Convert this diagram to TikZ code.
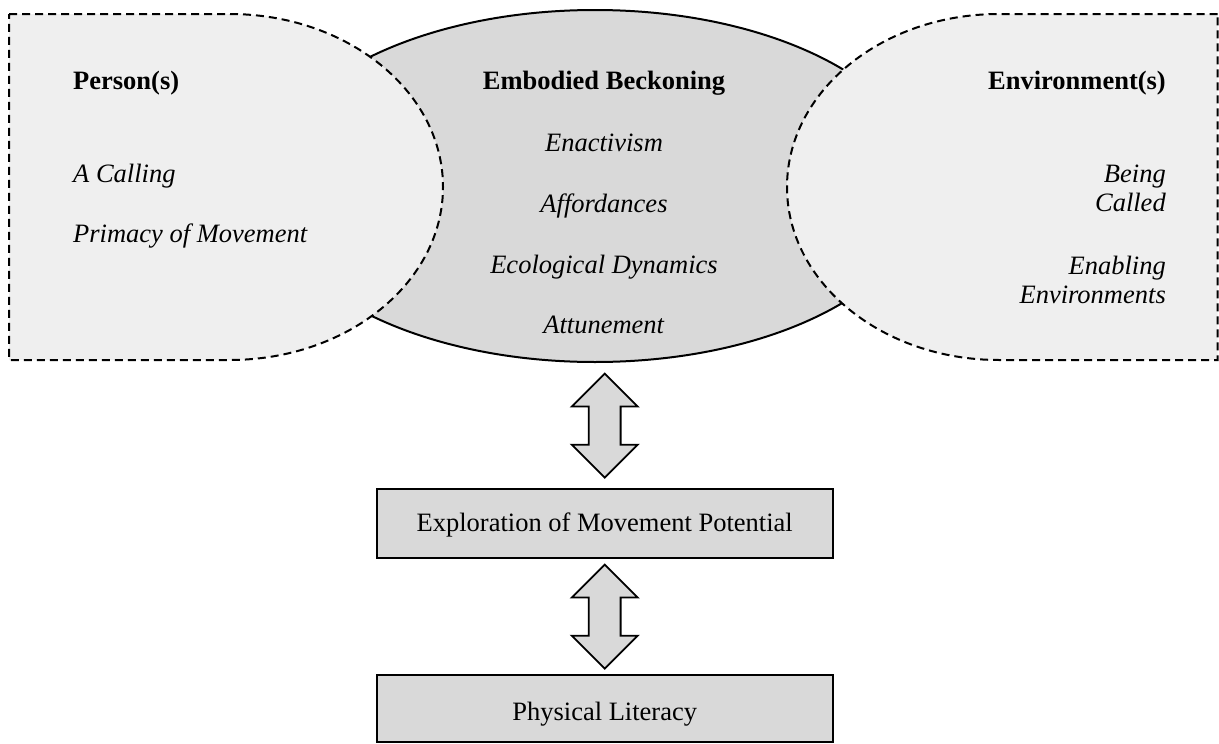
\documentclass[tikz,border=0pt]{standalone}
\usepackage{fontspec}
\setmainfont{Liberation Serif}
\usetikzlibrary{shapes.geometric,shapes.arrows,calc}
\definecolor{sidefill}{HTML}{EFEFEF}
\definecolor{midfill}{HTML}{D9D9D9}
\begin{document}
\begin{tikzpicture}[x=1pt,y=-1pt,
  txt/.style={font=\fontsize{26.5}{29}\selectfont, inner sep=0pt},
  side/.style={fill=sidefill, draw=black, line width=2pt, dash pattern=on 8pt off 5pt},
  midshape/.style={ellipse, draw=black, line width=2pt, fill=midfill, inner sep=0pt},
  box/.style={draw=black, line width=2pt, fill=midfill, inner sep=0pt, minimum width=456pt,
              font=\fontsize{26.5}{29}\selectfont},
  dbl/.style={double arrow, draw=black, line width=1.8pt, fill=midfill, rotate=90,
              minimum height=104pt, inner xsep=0pt, inner ysep=15pt,
              double arrow head extend=17pt, double arrow tip angle=90}]
\useasboundingbox (0,0) rectangle (1219,744);
% centre ellipse
\node[midshape, minimum width=662pt, minimum height=352pt] (beck) at (595,186) {};
% side shapes
\path[side] (9,14) -- (229.5,14) arc[start angle=-90, end angle=90, x radius=213.5, y radius=173] -- (9,360) -- cycle;
\path[side] (1217.5,14) -- (999,14) arc[start angle=-90, end angle=-270, x radius=212, y radius=173] -- (1217.5,360) -- cycle;
% left texts
\node[txt, anchor=base west] (pers) at (73,89) {\textbf{Person(s)}};
\node[txt, anchor=base west] (call) at (73,182) {\textit{A Calling}};
\node[txt, anchor=base west] (prim) at (73,242) {\textit{Primacy of Movement}};
% centre texts
\node[txt, anchor=base] (embt) at (604,89) {\textbf{Embodied Beckoning}};
\node[txt, anchor=base] (enac) at (604,151) {\textit{Enactivism}};
\node[txt, anchor=base] (affo) at (604,212) {\textit{Affordances}};
\node[txt, anchor=base] (ecol) at (604,273) {\textit{Ecological Dynamics}};
\node[txt, anchor=base] (attu) at (604,333) {\textit{Attunement}};
% right texts
\node[txt, anchor=base east] (envt) at (1166,89) {\textbf{Environment(s)}};
\node[txt, anchor=base east, align=right] (bein) at (1166,211) {\textit{Being}\\\textit{Called}};
\node[txt, anchor=base east, align=right] (enab) at (1166,303) {\textit{Enabling}\\\textit{Environments}};
% boxes
\node[box, minimum height=69pt, text height=20pt, text depth=4pt] (explore) at (604.7,523.8) {Exploration of Movement Potential};
\node[box, minimum height=67pt, text height=27pt, text depth=4pt] (lit) at (604.7,708.5) {Physical Literacy};
% double arrows
\node[dbl] (ar1) at ($(explore.north)!0.5!(explore.north |- beck.south)$) {};
\node[dbl] (ar2) at ($(explore.south)!0.5!(lit.north)$) {};
\end{tikzpicture}
\end{document}
